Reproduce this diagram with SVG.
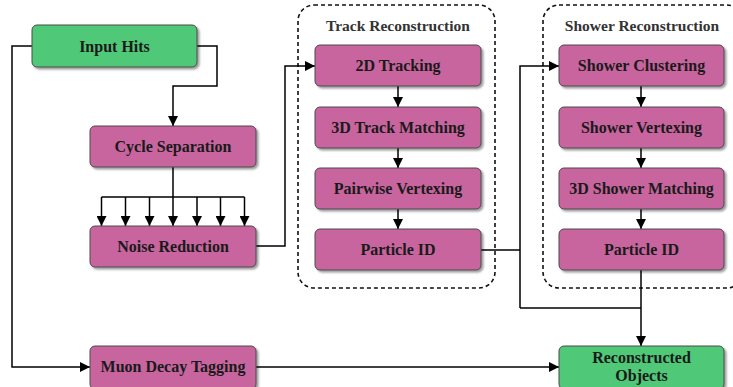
<svg xmlns="http://www.w3.org/2000/svg" width="733" height="387" viewBox="0 0 733 387">
  <defs>
    <marker id="arrow" markerUnits="userSpaceOnUse" markerWidth="10" markerHeight="10" refX="10" refY="5" orient="auto">
      <path d="M0,0 L10,5 L0,10 z" fill="#000"/>
    </marker>
    <filter id="shadow" x="-10%" y="-10%" width="120%" height="130%">
      <feGaussianBlur in="SourceAlpha" stdDeviation="1"/>
      <feOffset dx="1.5" dy="1.5" result="b"/>
      <feComponentTransfer><feFuncA type="linear" slope="0.4"/></feComponentTransfer>
      <feMerge><feMergeNode/><feMergeNode in="SourceGraphic"/></feMerge>
    </filter>
  </defs>
  <style>
    .box { stroke: #4a4a4a; stroke-width: 1; filter: url(#shadow); }
    .proc { fill: #c8659f; }
    .io { fill: #50c878; }
    .lbl { font-family: "Liberation Serif", "DejaVu Serif", serif; font-weight: bold; font-size: 16px; fill: #1a1a1a; text-anchor: middle; }
    .title { font-family: "Liberation Serif", "DejaVu Serif", serif; font-weight: bold; font-size: 15.5px; fill: #333; text-anchor: middle; }
    .group { fill: none; stroke: #111; stroke-width: 1.6; stroke-dasharray: 4 3; }
    .wire { fill: none; stroke: #000; stroke-width: 1.5; }
    .arr { marker-end: url(#arrow); }
  </style>
  <rect width="733" height="387" fill="#fff"/>

  <!-- dashed stage containers -->
  <g id="track-stage">
    <rect class="group" x="298" y="5" width="197" height="283" rx="16"/>
    <text class="title" x="398" y="31">Track Reconstruction</text>
  </g>
  <g id="shower-stage">
    <rect class="group" x="543" y="5" width="200" height="283" rx="16"/>
    <text class="title" x="642" y="31">Shower Reconstruction</text>
  </g>

  <!-- connectors -->
  <g id="connectors">
    <path class="wire arr" d="M32,46 H12 V367 H90"/>
    <path class="wire arr" d="M197,46 H217 V86 H173 V126"/>
    <path class="wire" d="M173,167 V197 M101.5,197 H244.5"/>
    <path class="wire arr" d="M101.5,197 V226"/>
    <path class="wire arr" d="M125.5,197 V226"/>
    <path class="wire arr" d="M149.5,197 V226"/>
    <path class="wire arr" d="M173,197 V226"/>
    <path class="wire arr" d="M197,197 V226"/>
    <path class="wire arr" d="M220.5,197 V226"/>
    <path class="wire arr" d="M244.5,197 V226"/>
    <path class="wire arr" d="M256,246 H285 V66 H315"/>
    <path class="wire arr" d="M398,86 V107"/>
    <path class="wire arr" d="M398,148 V168"/>
    <path class="wire arr" d="M398,209 V229"/>
    <path class="wire" d="M481,250 H520"/>
    <path class="wire arr" d="M520,308 V66 H559"/>
    <path class="wire arr" d="M641,86 V107"/>
    <path class="wire arr" d="M641,148 V168"/>
    <path class="wire arr" d="M641,209 V229"/>
    <path class="wire" d="M520,308 H641"/>
    <path class="wire arr" d="M641,270 V346"/>
    <path class="wire arr" d="M256,367 H559"/>
  </g>

  <!-- nodes -->
  <g id="input-hits">
    <rect class="box io" x="32" y="25" width="165" height="42" rx="5"/>
    <text class="lbl" x="114.5" y="51.5">Input Hits</text>
  </g>
  <g id="cycle-separation">
    <rect class="box proc" x="90" y="126" width="166" height="41" rx="5"/>
    <text class="lbl" x="173" y="152">Cycle Separation</text>
  </g>
  <g id="noise-reduction">
    <rect class="box proc" x="90" y="226" width="166" height="41" rx="5"/>
    <text class="lbl" x="173" y="252">Noise Reduction</text>
  </g>
  <g id="tracking-2d">
    <rect class="box proc" x="315" y="45" width="166" height="41" rx="5"/>
    <text class="lbl" x="398" y="71">2D Tracking</text>
  </g>
  <g id="track-matching-3d">
    <rect class="box proc" x="315" y="107" width="166" height="41" rx="5"/>
    <text class="lbl" x="398" y="133">3D Track Matching</text>
  </g>
  <g id="pairwise-vertexing">
    <rect class="box proc" x="315" y="168" width="166" height="41" rx="5"/>
    <text class="lbl" x="398" y="194">Pairwise Vertexing</text>
  </g>
  <g id="track-particle-id">
    <rect class="box proc" x="315" y="229" width="166" height="41" rx="5"/>
    <text class="lbl" x="398" y="255">Particle ID</text>
  </g>
  <g id="shower-clustering">
    <rect class="box proc" x="559" y="45" width="165" height="41" rx="5"/>
    <text class="lbl" x="641.5" y="71">Shower Clustering</text>
  </g>
  <g id="shower-vertexing">
    <rect class="box proc" x="559" y="107" width="165" height="41" rx="5"/>
    <text class="lbl" x="641.5" y="133">Shower Vertexing</text>
  </g>
  <g id="shower-matching-3d">
    <rect class="box proc" x="559" y="168" width="165" height="41" rx="5"/>
    <text class="lbl" x="641.5" y="194">3D Shower Matching</text>
  </g>
  <g id="shower-particle-id">
    <rect class="box proc" x="559" y="229" width="165" height="41" rx="5"/>
    <text class="lbl" x="641.5" y="255">Particle ID</text>
  </g>
  <g id="muon-decay-tagging">
    <rect class="box proc" x="90" y="346" width="166" height="43" rx="5"/>
    <text class="lbl" x="173" y="372">Muon Decay Tagging</text>
  </g>
  <g id="reconstructed-objects">
    <rect class="box io" x="559" y="346" width="165" height="43" rx="5"/>
    <text class="lbl" x="641.5" y="363">Reconstructed</text>
    <text class="lbl" x="641.5" y="381">Objects</text>
  </g>
</svg>
